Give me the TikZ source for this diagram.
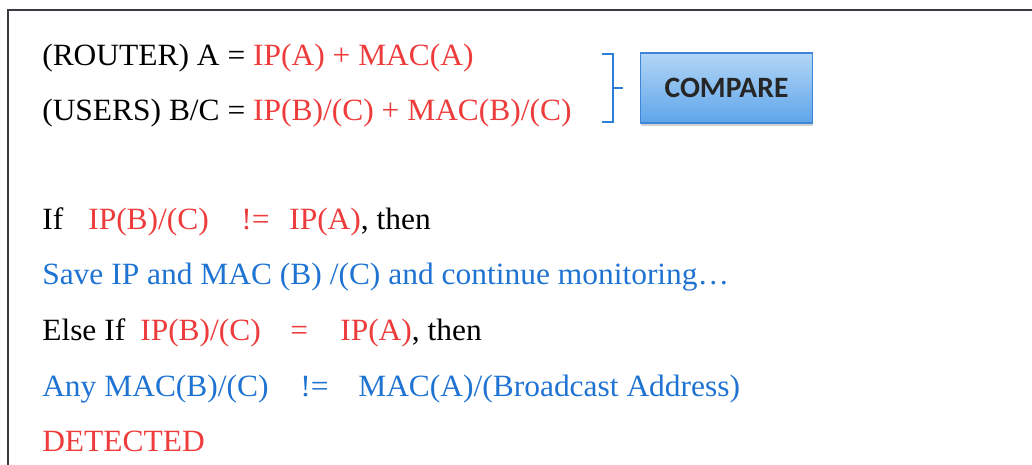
\documentclass[tikz,border=0pt]{standalone}
\usepackage{fontspec}
\setmainfont{Liberation Serif}[FakeStretch=1.017]
\newfontfamily\boxfont{Carlito}
\usetikzlibrary{shadows}
\definecolor{txtred}{HTML}{EE3B3B}
\definecolor{txtblue}{HTML}{1F73D2}
\definecolor{brkblue}{HTML}{2C7FD6}
\definecolor{boxtop}{HTML}{B2D6F6}
\definecolor{boxbot}{HTML}{5FA5EA}
\definecolor{boxline}{HTML}{3F86D8}
\definecolor{frame}{HTML}{3A3A40}

\begin{document}
\begin{tikzpicture}[
    x=0.025cm, y=-0.025cm,
    line/.style    = {font=\fontsize{22}{26}\selectfont, inner sep=0pt, anchor=base west},
    cmpbox/.style  = {rectangle, draw=boxline, line width=0.8pt,
                      top color=boxtop, bottom color=boxbot,
                      minimum width=4.3cm, minimum height=1.75cm,
                      drop shadow={opacity=0.35, shadow xshift=0.5pt, shadow yshift=-2pt},
                      font=\boxfont\bfseries\fontsize{21}{24}\selectfont, text=black!85}
]
\useasboundingbox (0,0) rectangle (1032,465);
% outer frame (cut off at right and bottom)
\draw[frame, line width=1.5pt] (8,465) -- (8,10) -- (1032,10);

% definitions
\node[line] (router) at (42,66)  {(ROUTER) A = \textcolor{txtred}{IP(A) + MAC(A)}};
\node[line] (users)  at (42,121) {(USERS) B/C = \textcolor{txtred}{IP(B)/(C) + MAC(B)/(C)}};

% bracket and compare box
\coordinate (btop) at (602,54);
\coordinate (bbot) at (602,122);
\coordinate (btip) at (623,88);
\draw[brkblue, line width=1.2pt] (btop) -- (613,54) -- (613,122) -- (bbot);
\draw[brkblue, line width=1.2pt] (613,88) -- (btip);
\node[cmpbox] (compare) at (726.5,88) {COMPARE};

% rules
\node[line] (if)     at (42,230)  {If};
\node[line, text=txtred] (ifip)  at (88,230)  {IP(B)/(C)};
\node[line, text=txtred] (ifneq) at (241,230) {!=};
\node[line] (ifthen) at (289,230) {\textcolor{txtred}{IP(A)}, then};

\node[line, text=txtblue] (save) at (42,285) {Save IP and MAC (B) /(C) and continue monitoring\dots};

\node[line] (elif)     at (42,340)  {Else If};
\node[line, text=txtred] (elifip) at (140,340) {IP(B)/(C)};
\node[line, text=txtred] (elifeq) at (290,340) {=};
\node[line] (elifthen) at (340,340) {\textcolor{txtred}{IP(A)}, then};

\node[line, text=txtblue] (anymac) at (42,396)  {Any MAC(B)/(C)};
\node[line, text=txtblue] (macneq) at (300,396) {!=};
\node[line, text=txtblue] (macbc)  at (358,396) {MAC(A)/(Broadcast Address)};

\node[line, text=txtred] (detected) at (42,451) {DETECTED};
\end{tikzpicture}
\end{document}
